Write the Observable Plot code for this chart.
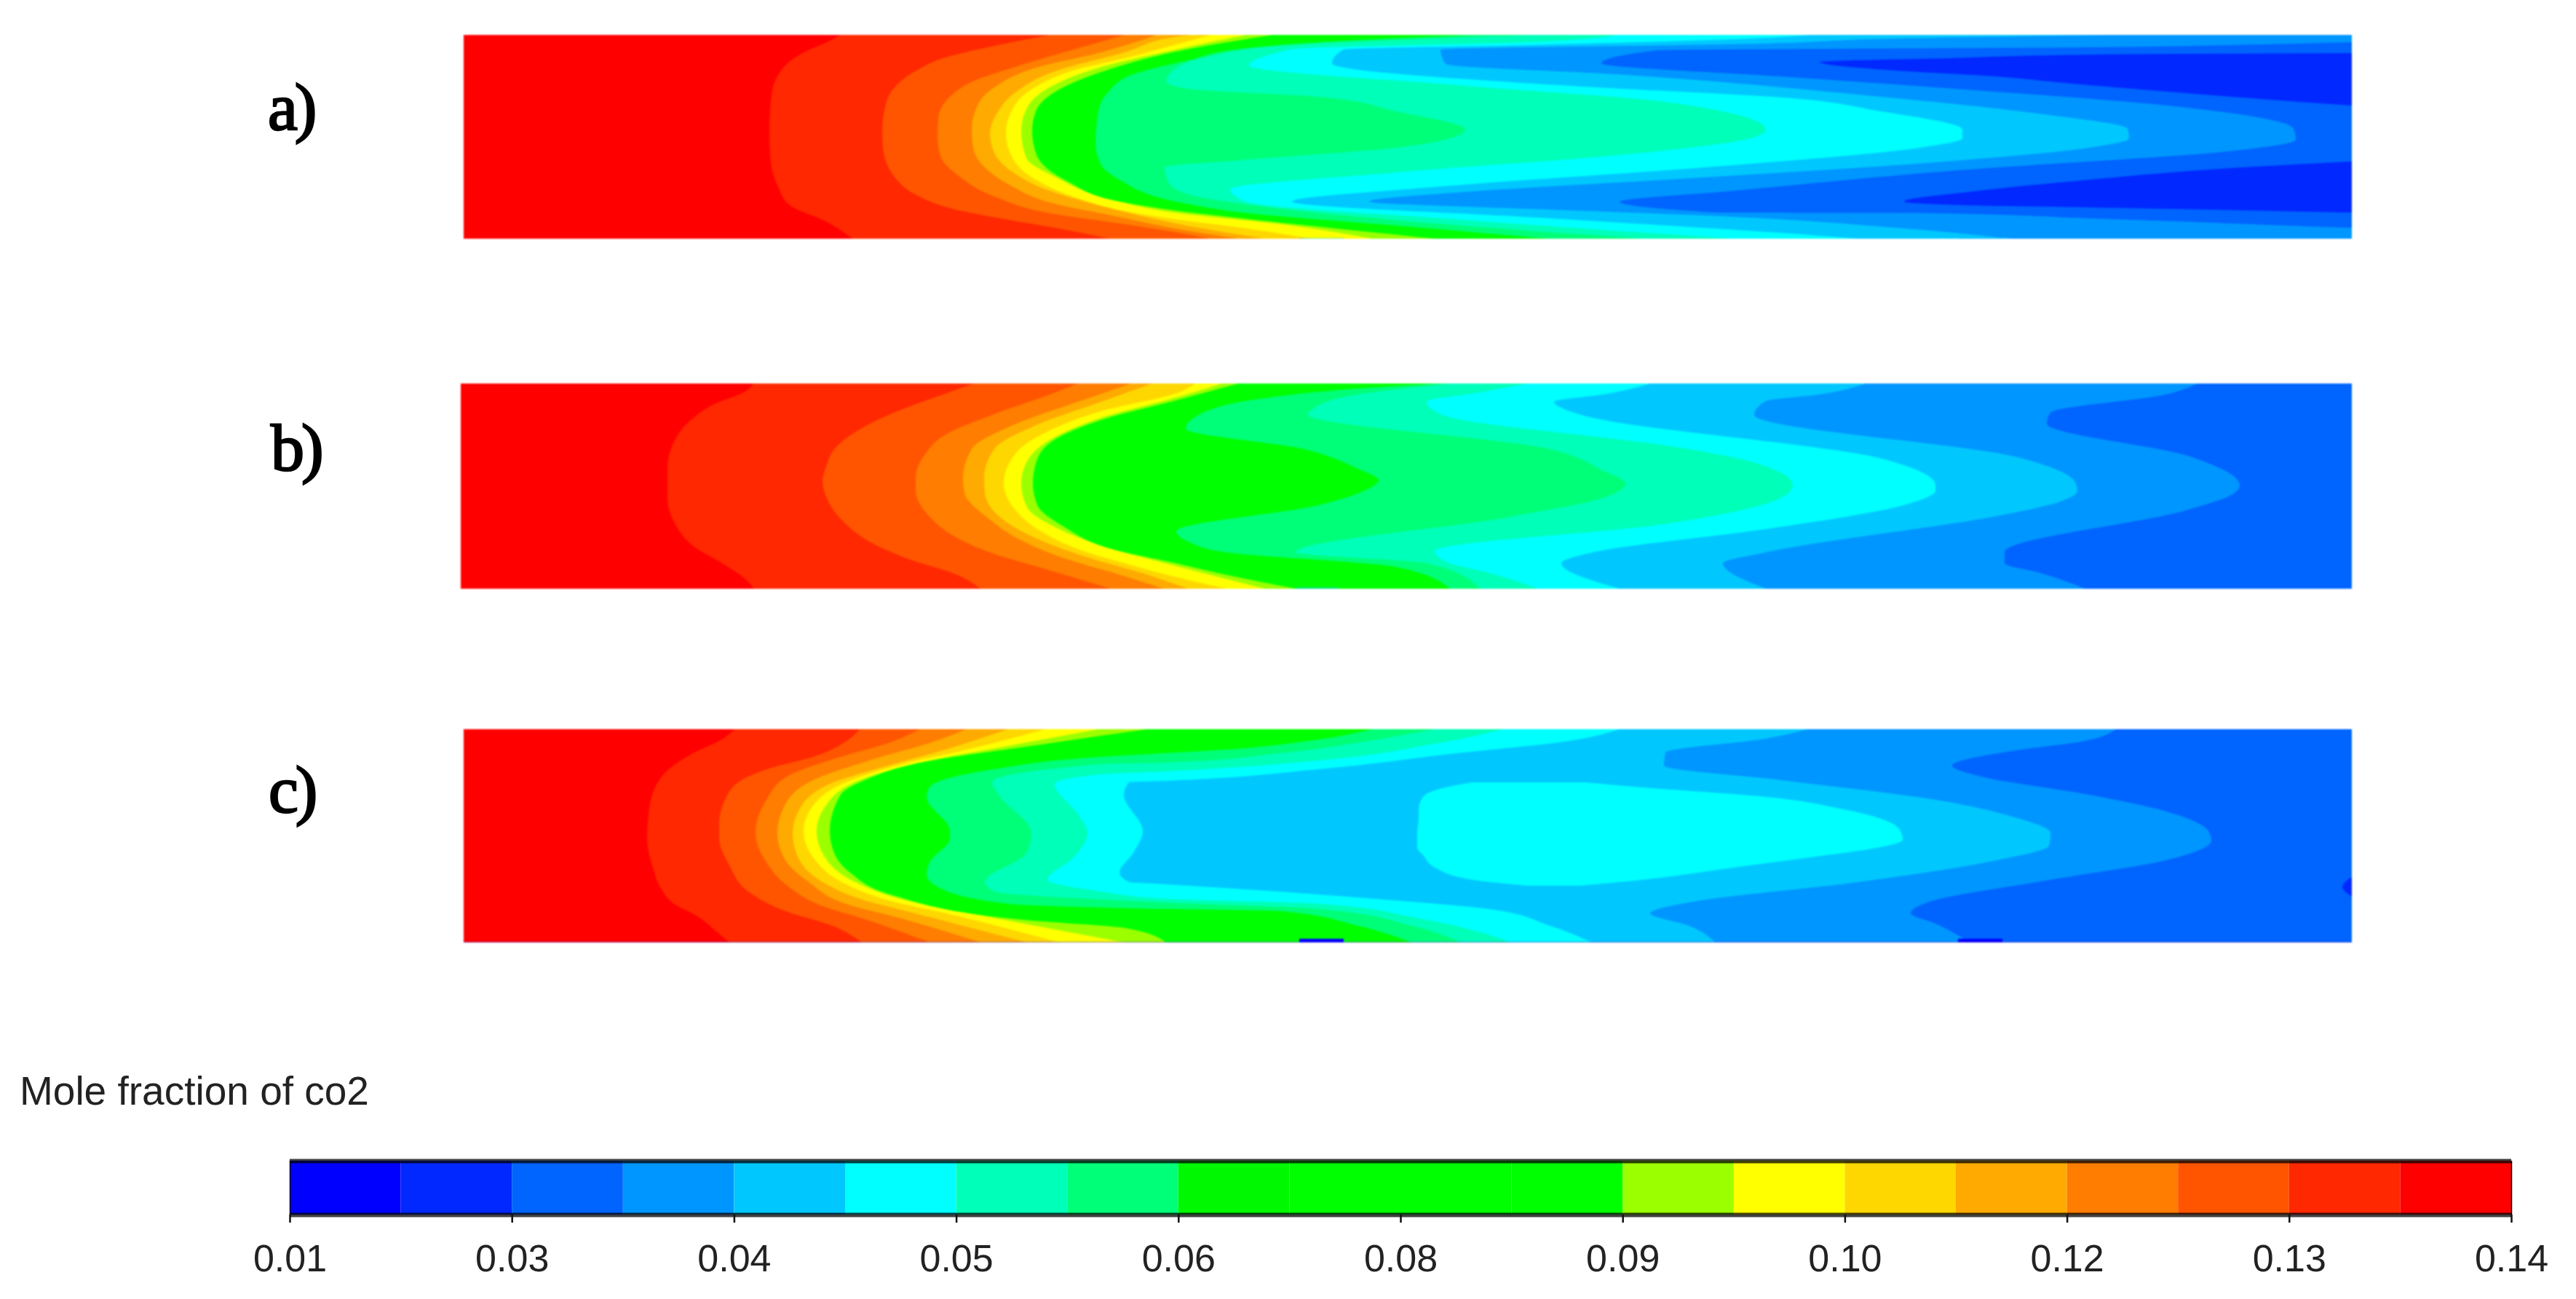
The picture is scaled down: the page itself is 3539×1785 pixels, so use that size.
<!DOCTYPE html>
<html>
<head>
<meta charset="utf-8">
<script src="https://cdn.jsdelivr.net/npm/d3@7"></script>
<script src="https://cdn.jsdelivr.net/npm/@observablehq/plot@0.6"></script>
<style>
  html, body { margin: 0; padding: 0; background: #fff; }
  #page { position: relative; width: 3539px; height: 1785px; overflow: hidden; background: #fff; }
  .panel, .bar { position: absolute; }
  .panel { filter: blur(1.2px); }
  .bar { left: 0; top: 1585px; filter: blur(0.7px); }
  .tag { position: absolute; font-family: "Liberation Serif", serif; font-size: 92px; line-height: 1; color: #000; letter-spacing: -4px; -webkit-text-stroke: 2.5px #000; }
  .title { position: absolute; left: 27px; top: 1466px; font-family: "Liberation Sans", sans-serif; font-size: 55px; line-height: 1.2; color: #222; filter: blur(0.5px); }
</style>
</head>
<body>
<div id="page"></div>
<script>
// Colour bands of the legend, index 0 (lowest mole fraction) to 19 (highest)
const bandColors = ["#0000ff","#0028ff","#0064ff","#0096ff","#00c8ff","#00ffff","#00ffb9","#00ff78","#00f800","#00ff00","#00ff00","#00ff00","#9bff00","#ffff00","#ffd700","#ffaa00","#ff7d00","#ff5500","#ff2800","#ff0000"];
// Legend tick labels: one on every second band edge
const barLabels = ["0.01","0.03","0.04","0.05","0.06","0.08","0.09","0.10","0.12","0.13","0.14"];

// Contour fronts, [band, [[radial, axial], ...]]; the band fills from the front to the tube exit.
const contoursA = [
  [18,[[0,518],[10,499],[22,471],[39,445],[55,432],[82,423],[132,420],[175,422],[209,432],[234,448],[257,499],[280,534]]],
  [17,[[0,805],[15,729],[30,665],[50,620],[72,592],[99,579],[132,575],[155,576],[199,595],[219,620],[239,672],[254,748],[265,812],[280,888]]],
  [16,[[0,908],[22,831],[45,754],[65,697],[85,668],[115,652],[139,651],[169,656],[192,678],[222,729],[245,805],[260,908],[272,983],[280,1026]]],
  [15,[[0,952],[24,875],[45,786],[72,729],[95,707],[129,698],[155,700],[179,713],[205,748],[232,812],[249,895],[267,983],[280,1064]]],
  [14,[[0,1000],[2,983],[24,908],[50,812],[79,758],[109,732],[135,723],[162,729],[189,755],[212,799],[235,876],[260,983],[280,1100]]],
  [13,[[0,1026],[12,983],[32,908],[47,844],[75,780],[102,754],[135,745],[169,754],[199,786],[222,837],[242,908],[254,983],[265,1069],[280,1164]]],
  [12,[[0,1074],[19,983],[44,876],[72,805],[102,773],[132,766],[169,773],[195,812],[222,876],[245,983],[260,1122],[280,1249]]],
  [9,[[0,1111],[22,983],[47,888],[75,818],[105,786],[132,781],[165,787],[202,831],[229,901],[242,983],[252,1069],[280,1334]]],
  [7,[[0,1386],[10,1175],[19,1069],[35,995],[54,920],[79,885],[105,872],[149,868],[179,876],[199,901],[230,983],[244,1069],[262,1281],[280,1492]]],
  [6,[[0,1471],[7,1281],[15,1122],[29,1027],[49,974],[64,965],[74,995],[85,1175],[105,1281],[130,1376],[142,1355],[155,1281],[172,1069],[182,963],[202,968],[219,995],[232,1069],[259,1334],[280,1619]]],
  [5,[[0,1588],[10,1461],[19,1143],[25,1116],[42,1079],[69,1365],[92,1651],[130,1789],[142,1768],[164,1598],[189,1281],[212,1053],[229,1074],[255,1386],[280,1746]]],
  [4,[[0,1852],[5,1768],[14,1461],[20,1209],[39,1193],[72,1556],[85,1799],[105,1947],[130,2059],[142,2059],[155,2000],[182,1704],[209,1334],[229,1138],[252,1492],[272,1810],[280,1916]]],
  [3,[[0,2255],[5,1969],[12,1778],[20,1342],[40,1349],[55,1598],[82,1916],[109,2170],[129,2286],[142,2288],[155,2233],[175,2022],[199,1651],[215,1386],[229,1244],[240,1492],[249,1725],[265,1969],[280,2127]]],
  [2,[[10,2594],[14,2424],[17,2233],[21,1641],[39,1563],[57,1810],[72,2022],[99,2360],[129,2514],[144,2517],[159,2434],[186,2053],[215,1736],[229,1588],[244,1725],[245,2022],[252,2233],[265,2594]]],
  [1,[[25,2594],[27,2244],[32,2043],[37,1863],[49,1969],[55,2075],[69,2233],[82,2392],[97,2594]]],
  [1,[[174,2594],[182,2445],[199,2233],[215,2075],[229,1979],[235,2106],[237,2233],[244,2594]]]
];
const contoursB = [
  [18,[[0,402],[12,389],[27,351],[53,313],[80,293],[117,284],[157,284],[190,293],[223,319],[250,364],[267,389],[282,403]]],
  [17,[[0,705],[17,657],[38,600],[63,548],[87,516],[117,501],[133,497],[153,501],[187,523],[217,561],[240,612],[263,682],[282,714]]],
  [16,[[0,848],[17,804],[42,733],[72,663],[97,638],[130,625],[147,625],[183,644],[207,673],[230,721],[257,810],[282,893]]],
  [15,[[0,921],[25,848],[57,759],[90,702],[130,690],[150,692],[187,727],[213,765],[240,829],[263,906],[282,966]]],
  [14,[[0,950],[25,880],[57,791],[90,733],[130,719],[150,720],[190,749],[213,791],[237,855],[263,944],[282,999]]],
  [13,[[0,1009],[12,987],[38,880],[67,804],[93,765],[137,746],[170,759],[203,797],[230,855],[247,912],[267,987],[282,1052]]],
  [12,[[0,1046],[18,987],[47,880],[77,810],[107,778],[137,770],[170,778],[197,816],[223,880],[252,987],[282,1105]]],
  [9,[[0,1068],[22,987],[50,880],[77,816],[107,791],[137,786],[167,792],[197,829],[227,893],[248,987],[263,1052],[282,1147]]],
  [7,[[0,1348],[7,1232],[20,1105],[40,1020],[62,996],[90,1158],[117,1232],[133,1261],[147,1242],[167,1179],[203,983],[217,999],[232,1052],[252,1285],[282,1359]]],
  [6,[[0,1359],[17,1221],[37,1168],[42,1163],[90,1496],[120,1570],[137,1600],[157,1570],[183,1443],[232,1147],[247,1327],[282,1401]]],
  [5,[[0,1465],[12,1401],[25,1327],[43,1348],[90,1687],[107,1771],[140,1830],[157,1814],[193,1655],[230,1338],[247,1359],[260,1412],[282,1480]]],
  [4,[[0,1634],[15,1570],[25,1502],[43,1539],[103,1951],[140,2026],[147,2026],[167,1983],[200,1793],[232,1555],[247,1512],[282,1592]]],
  [3,[[0,1930],[15,1867],[24,1793],[43,1777],[102,2142],[133,2216],[147,2221],[163,2195],[180,2121],[232,1793],[247,1734],[282,1793]]],
  [2,[[0,2386],[15,2343],[40,2184],[55,2179],[100,2375],[140,2444],[153,2433],[173,2375],[232,2121],[247,2121],[260,2169],[282,2232]]]
];
const contoursC = [
  [18,[[0,372],[15,353],[30,321],[55,282],[80,263],[117,254],[150,252],[190,260],[217,270],[240,289],[257,321],[277,346],[293,365]]],
  [17,[[0,544],[17,525],[38,480],[53,423],[68,385],[97,359],[130,351],[150,351],[187,365],[223,391],[250,442],[270,506],[293,547]]],
  [16,[[0,627],[17,589],[38,518],[63,448],[97,416],[143,401],[183,416],[213,442],[243,493],[263,557],[293,640]]],
  [15,[[0,691],[17,646],[43,557],[70,480],[103,442],[143,431],[180,442],[210,474],[240,525],[260,601],[293,710]]],
  [14,[[0,748],[27,665],[52,576],[77,499],[117,458],[143,452],[173,458],[210,493],[233,544],[253,620],[293,774]]],
  [13,[[0,799],[27,696],[47,607],[73,525],[97,487],[140,467],[180,483],[213,525],[233,576],[258,684],[293,818]]],
  [12,[[0,872],[23,748],[47,621],[70,544],[103,499],[140,485],[180,499],[213,544],[232,595],[263,748],[293,908]]],
  [9,[[0,939],[23,780],[45,633],[70,551],[90,518],[140,503],[170,509],[197,531],[228,589],[263,780],[273,907],[293,965]]],
  [7,[[0,1249],[17,1154],[28,1048],[33,963],[38,876],[55,729],[80,640],[93,636],[140,668],[150,668],[183,640],[200,636],[217,652],[240,748],[247,963],[250,1122],[270,1228],[293,1302]]],
  [6,[[0,1334],[17,1238],[33,1122],[46,963],[48,876],[73,726],[90,735],[143,780],[170,773],[210,716],[223,729],[238,963],[247,1175],[270,1302],[293,1370]]],
  [5,[[0,1429],[20,1334],[42,1185],[58,963],[62,876],[75,812],[117,844],[143,857],[177,837],[207,802],[223,876],[233,963],[240,1175],[260,1312],[293,1439]]],
  [4,[[0,1588],[17,1513],[33,1365],[55,1175],[71,963],[73,914],[90,907],[140,933],[170,920],[197,901],[210,914],[213,963],[237,1302],[247,1408],[270,1492],[293,1550]]],
  [3,[[0,1847],[13,1789],[32,1651],[50,1649],[70,1810],[97,2022],[120,2127],[143,2180],[160,2178],[180,2106],[210,1916],[238,1683],[253,1630],[270,1683],[293,1720]]],
  [2,[[0,2270],[17,2223],[30,2127],[50,2045],[65,2085],[90,2233],[113,2339],[140,2397],[153,2401],[180,2339],[207,2180],[238,2011],[253,1988],[267,2022],[293,2069]]],
  [1,[[203,2594],[217,2581],[230,2594]]]
];
// Closed cyan island of panel c: [radial, axial start, axial end]
const islandC = [[73,1386,1540],[80,1349,1619],[93,1318,1789],[110,1312,1895],[123,1312,1947],[140,1310,1974],[152,1310,1977],[163,1310,1942],[173,1318,1873],[190,1334,1746],[207,1386,1619],[215,1461,1535]];
// Small wall patches: [band, axial start, axial end, radial start, radial end]
const patchesA = [[3,2053,2114,279,280],[4,1148,1209,279,280]];
const patchesB = [[4,1148,1205,280,282],[3,2053,2114,281,282]];
const patchesC = [[0,1148,1209,288,293],[0,2053,2114,288,293]];

const bandIndex = bandColors.map((_, i) => i);
const colorScale = {type: "ordinal", domain: bandIndex, range: bandColors};

function panel(contours, island, patches, length, depth, left, top, edge) {
  const rows = [];
  // Background: the highest band fills the whole tube
  [[0, 0], [depth, 0]].forEach(([y, x]) => rows.push({region: -1, band: 19, y, x1: x, x2: length}));
  contours.forEach(([band, pts], region) => pts.forEach(([y, x]) => rows.push({region, band, y, x1: x, x2: length})));
  island.forEach(([y, a, b]) => rows.push({region: 999, band: 5, y, x1: a, x2: b}));
  const patchRows = patches.map(([band, x1, x2, y1, y2]) => ({band, x1, x2, y1, y2}));
  const marks = [
    Plot.areaX(rows, {y: "y", x1: "x1", x2: "x2", z: "region", fill: "band", curve: "monotone-y"}),
    Plot.rect(patchRows, {x1: "x1", x2: "x2", y1: "y1", y2: "y2", fill: "band", fillOpacity: edge ? 1 : 0.5})
  ];
  if (edge) marks.push(Plot.ruleY([depth], {stroke: "#2000c0", strokeOpacity: 0.5, strokeWidth: 3}));
  const svg = Plot.plot({
    width: length, height: depth,
    marginLeft: 0, marginRight: 0, marginTop: 0, marginBottom: 0,
    x: {domain: [0, length], axis: null},
    y: {domain: [0, depth], reverse: true, axis: null},
    color: colorScale,
    style: {background: "transparent"},
    marks
  });
  svg.setAttribute("class", "panel");
  svg.style.left = left + "px";
  svg.style.top = top + "px";
  return svg;
}

function colorBar() {
  const bands = bandIndex.map(i => ({band: i, x1: i, x2: i + 1}));
  const ticks = barLabels.map((_, i) => i * 2);
  const svg = Plot.plot({
    width: 3539, height: 185,
    marginLeft: 398, marginRight: 89, marginTop: 10, marginBottom: 101,
    x: {domain: [0, bandColors.length]},
    y: {domain: [0, 1], axis: null},
    color: colorScale,
    style: {background: "transparent", fontFamily: "Liberation Sans, sans-serif"},
    marks: [
      Plot.rect(bands, {x1: "x1", x2: "x2", fill: "band"}),
      Plot.ruleY([0, 1], {stroke: "#000", strokeOpacity: 0.75, strokeWidth: 6}),
      Plot.ruleX([0, bandColors.length], {stroke: "#000", strokeWidth: 1.5}),
      Plot.axisX({
        ticks, tickSize: 11, tickPadding: 30, strokeWidth: 2.5, stroke: "#111",
        tickFormat: i => barLabels[i / 2], fontSize: 52, fill: "#222", label: null
      })
    ]
  });
  svg.setAttribute("class", "bar");
  return svg;
}

function tag(text, left, baseline) {
  const d = document.createElement("div");
  d.className = "tag";
  d.textContent = text;
  d.style.left = left + "px";
  d.style.top = (baseline - 74) + "px";
  return d;
}

const page = document.getElementById("page");
page.append(
  panel(contoursA, [], patchesA, 2594, 280, 637, 48, false),
  panel(contoursB, [], patchesB, 2598, 282, 633, 527, false),
  panel(contoursC, islandC, patchesC, 2594, 293, 637, 1002, true),
  colorBar(),
  tag("a)", 368, 175), tag("b)", 372, 643), tag("c)", 369, 1113)
);
const title = document.createElement("div");
title.className = "title";
title.textContent = "Mole fraction of co2";
page.append(title);
</script>
</body>
</html>
